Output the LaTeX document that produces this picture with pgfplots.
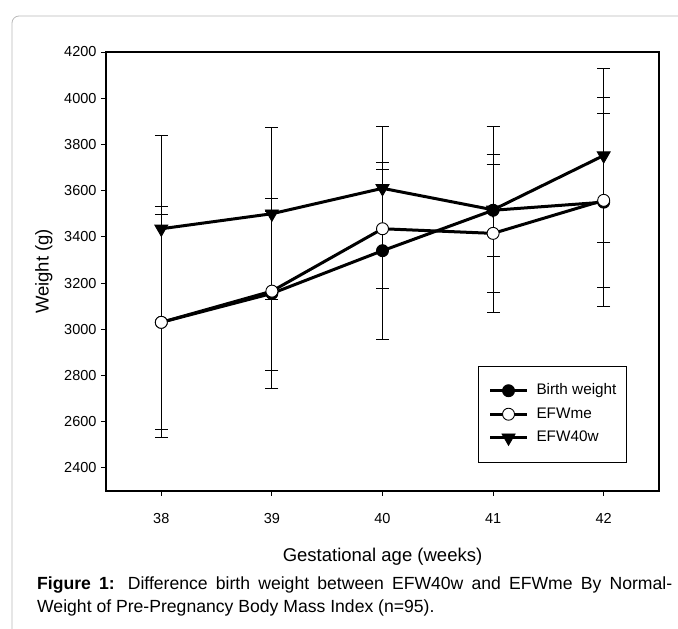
\documentclass[border=0pt]{standalone}
\usepackage{pgfplots}
\pgfplotsset{compat=1.18}
\usepackage{fontspec}
\setmainfont{Liberation Sans}
\begin{document}
\begin{tikzpicture}[x=1pt,y=1pt]
\path[use as bounding box] (0,0) rectangle (678,629);
\draw[gray!55, line width=0.8pt, rounded corners=7pt] (12,-5) -- (12,613) -- (700,613);
\begin{axis}[
  at={(106pt,138pt)}, anchor=south west,
  scale only axis, width=553pt, height=439pt,
  xmin=37.5, xmax=42.5, ymin=2300, ymax=4200,
  xtick={38,39,40,41,42},
  ytick={2400,2600,...,4200},
  xtick pos=bottom, ytick pos=left,
  tick align=outside, major tick length=5pt,
  tick style={black, line width=0.9pt},
  axis line style={line width=1.1pt},
  /pgf/number format/assume math mode=true,
  /pgf/number format/1000 sep={},
  ticklabel style={font=\fontsize{14.5}{16}\selectfont},
  xticklabel style={yshift=-14pt},
  yticklabel style={xshift=-1pt},
  xlabel={Gestational age (weeks)},
  ylabel={Weight (g)},
  label style={font=\fontsize{18.5}{20}\selectfont},
  xlabel style={yshift=-17pt},
  ylabel style={yshift=5pt},
  legend style={at={(0.942,0.0645)}, anchor=south east, draw=black, line width=0.9pt,
    font=\fontsize{15.3}{17}\selectfont, row sep=9.5pt, inner xsep=10pt, inner ysep=17pt,
    nodes={inner sep=0pt, text height=11pt, text depth=3pt},
    /tikz/every odd column/.append style={column sep=8pt},
    cells={anchor=west}},
  legend image code/.code={\draw[mark repeat=2,mark phase=2] plot coordinates {(0pt,0pt) (18.5pt,0pt) (37pt,0pt)};},
  error bars/y dir=both, error bars/y explicit,
  error bars/error mark=-,
  error bars/error mark options={black, line width=0.9pt, mark size=6.5pt, rotate=90},
  error bars/error bar style={black, line width=0.9pt},
]
\addplot[black, line width=3pt, mark=*, mark size=6pt, mark options={solid, line width=0.9pt, fill=black, draw=black}]
  coordinates {(38,3030) +- (0,500) (39,3155) +- (0,410) (40,3340) +- (0,383) (41,3515) +- (0,200) (42,3550) +- (0,453)};
\addlegendentry{Birth weight}
\addplot[black, line width=3pt, mark=*, mark size=6pt, mark options={solid, line width=0.9pt, fill=white, draw=black}]
  coordinates {(38,3030) +- (0,465) (39,3165) +- (0,345) (40,3435) +- (0,258) (41,3415) +- (0,343) (42,3558) +- (0,378)};
\addlegendentry{EFWme}
\addplot[black, line width=3pt, mark=triangle*, mark size=7.5pt, mark options={solid, line width=0.9pt, fill=black, draw=black, rotate=180}]
  coordinates {(38,3435) +- (0,402) (39,3500) +- (0,372) (40,3610) +- (0,269) (41,3517) +- (0,359) (42,3752) +- (0,378)};
\addlegendentry{EFW40w}
\end{axis}
\node[anchor=base west, inner sep=0pt, font=\fontsize{17.6}{20}\selectfont] at (37,39) {\makebox[635pt][s]{\textbf{Figure 1:} Difference birth weight between EFW40w and EFWme By Normal-}};
\node[anchor=base west, inner sep=0pt, font=\fontsize{17.6}{20}\selectfont] at (37,16) {Weight of Pre-Pregnancy Body Mass Index (n=95).};
\end{tikzpicture}
\end{document}
